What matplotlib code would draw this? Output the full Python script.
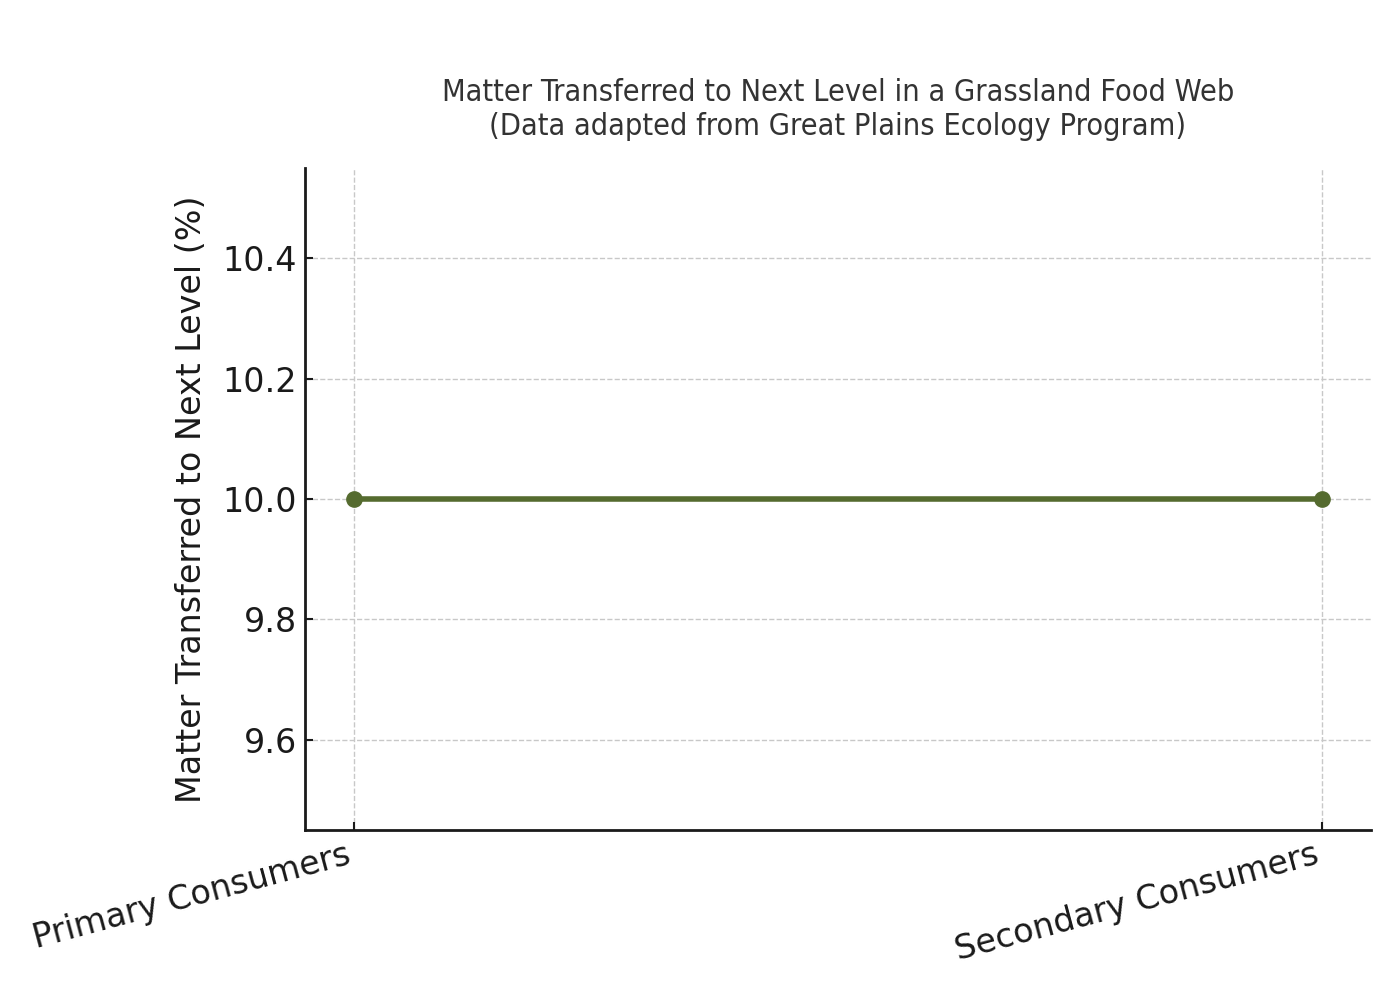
import matplotlib.pyplot as plt

# data
levels = ['Primary Consumers', 'Secondary Consumers']
transfer_pct = [10, 10]

fig, ax = plt.subplots(figsize=(14, 10), dpi=100)
fig.subplots_adjust(left=0.218, right=0.979, top=0.832, bottom=0.17)

ax.plot(levels, transfer_pct, color='#556B2F', linewidth=4, marker='o', markersize=11)

ax.set_title('Matter Transferred to Next Level in a Grassland Food Web\n'
             '(Data adapted from Great Plains Ecology Program)',
             fontsize=22, color='#333333', pad=24, fontstretch='condensed')
ax.set_ylabel('Matter Transferred to Next Level (%)', fontsize=24, color='#1a1a1a',
              labelpad=10)

ax.tick_params(axis='both', labelsize=24, direction='in', length=6, width=1.5,
               pad=6, colors='#1a1a1a')
plt.setp(ax.get_xticklabels(), rotation=15, ha='right')

ax.grid(True, linestyle='--', color='#c8c8c8', linewidth=1)
ax.set_axisbelow(True)
for s in ['top', 'right']:
    ax.spines[s].set_visible(False)
for s in ['left', 'bottom']:
    ax.spines[s].set_linewidth(2)
    ax.spines[s].set_color('#1a1a1a')

fig.savefig('out.png')
